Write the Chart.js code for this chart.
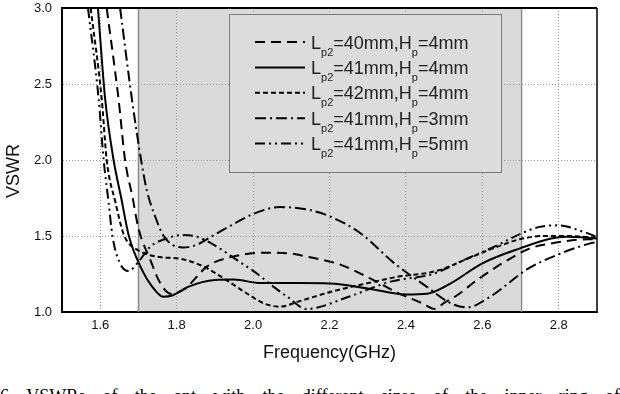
<!DOCTYPE html>
<html>
<head>
<meta charset="utf-8">
<script src="https://cdn.jsdelivr.net/npm/chart.js@4.4.0/dist/chart.umd.min.js"></script>
<style>
html, body { margin: 0; padding: 0; background: #fff; }
#wrap { position: relative; width: 620px; height: 394px; overflow: hidden; }
#c { position: absolute; left: 0; top: 0; }
#caption { position: absolute; left: 0; top: 387px; width: 620px; display: flex; justify-content: space-between;
  font: 18px "Liberation Serif", serif; color: #000; line-height: 1; white-space: nowrap; }
</style>
</head>
<body>
<div id="wrap">
  <canvas id="c" width="620" height="372"></canvas>
  <div id="caption"><span>6</span><span>VSWRs</span><span>of</span><span>the</span><span>ant</span><span>with</span><span>the</span><span>different</span><span>sizes</span><span>of</span><span>the</span><span>inner</span><span>ring</span><span>of</span></div>
</div>
<script>
// axis ticks and highlighted band (GHz)
const xTicks = [1.6, 1.8, 2.0, 2.2, 2.4, 2.6, 2.8];
const yTicks = [1.0, 1.5, 2.0, 2.5, 3.0];
const band = [1.7, 2.7];

// Lp2=40mm, Hp=4mm
const lp40Freq = [1.617, 1.648, 1.665, 1.685, 1.70, 1.73, 1.755, 1.785, 1.82, 1.88, 1.94, 2.03, 2.10, 2.13, 2.23, 2.315, 2.375, 2.445, 2.475, 2.50, 2.534, 2.586, 2.665, 2.726, 2.778, 2.84, 2.9];
const lp40Vswr = [3.0, 2.4, 2.0, 1.75, 1.55, 1.35, 1.2, 1.12, 1.15, 1.30, 1.36, 1.39, 1.385, 1.37, 1.31, 1.21, 1.13, 1.055, 1.02, 1.06, 1.11, 1.21, 1.34, 1.42, 1.45, 1.473, 1.48];

// Lp2=41mm, Hp=4mm
const lp41Freq = [1.594, 1.613, 1.635, 1.655, 1.675, 1.705, 1.735, 1.765, 1.79, 1.83, 1.90, 1.95, 2.02, 2.12, 2.20, 2.30, 2.40, 2.455, 2.516, 2.60, 2.70, 2.78, 2.82, 2.9];
const lp41Vswr = [3.0, 2.4, 2.0, 1.75, 1.5, 1.30, 1.17, 1.10, 1.11, 1.165, 1.21, 1.213, 1.19, 1.19, 1.187, 1.155, 1.115, 1.12, 1.187, 1.32, 1.42, 1.484, 1.495, 1.484];

// Lp2=42mm, Hp=4mm
const lp42Freq = [1.575, 1.604, 1.617, 1.64, 1.66, 1.672, 1.69, 1.722, 1.76, 1.81, 1.87, 1.93, 1.985, 2.03, 2.07, 2.12, 2.2, 2.3, 2.375, 2.48, 2.57, 2.64, 2.70, 2.76, 2.82, 2.9];
const lp42Vswr = [3.0, 2.4, 2.0, 1.72, 1.52, 1.46, 1.42, 1.38, 1.36, 1.35, 1.30, 1.21, 1.12, 1.055, 1.035, 1.07, 1.13, 1.19, 1.23, 1.27, 1.36, 1.43, 1.48, 1.50, 1.50, 1.49];

// Lp2=41mm, Hp=3mm
const hp3Freq = [1.652, 1.683, 1.707, 1.722, 1.745, 1.766, 1.79, 1.817, 1.85, 1.90, 1.95, 2.0, 2.07, 2.14, 2.2, 2.28, 2.37, 2.455, 2.515, 2.56, 2.62, 2.72, 2.8, 2.88, 2.9];
const hp3Vswr = [3.0, 2.4, 2.0, 1.80, 1.62, 1.50, 1.44, 1.425, 1.44, 1.51, 1.58, 1.645, 1.69, 1.675, 1.63, 1.52, 1.32, 1.165, 1.06, 1.03, 1.10, 1.285, 1.38, 1.45, 1.46];

// Lp2=41mm, Hp=5mm
const hp5Freq = [1.568, 1.596, 1.609, 1.622, 1.632, 1.65, 1.674, 1.70, 1.731, 1.775, 1.81, 1.853, 1.905, 1.958, 2.01, 2.054, 2.09, 2.14, 2.25, 2.36, 2.47, 2.55, 2.64, 2.70, 2.75, 2.80, 2.865, 2.9];
const hp5Vswr = [3.0, 2.4, 2.0, 1.72, 1.5, 1.33, 1.27, 1.33, 1.43, 1.484, 1.506, 1.495, 1.43, 1.341, 1.253, 1.165, 1.10, 1.02, 1.10, 1.20, 1.25, 1.34, 1.44, 1.515, 1.56, 1.57, 1.527, 1.495];

// legend labels: [Lp2, Hp]
const lpLabels = ['40', '41', '42', '41', '41'];
const hpLabels = ['4', '4', '4', '3', '5'];

const freqs = [lp40Freq, lp41Freq, lp42Freq, hp3Freq, hp5Freq];
const vswrs = [lp40Vswr, lp41Vswr, lp42Vswr, hp3Vswr, hp5Vswr];
const dashes = [[10, 6], [], [5, 3], [11, 4, 2, 4], [10, 4, 2, 4, 2, 4]];

const FONT = 'Liberation Sans';

const datasets = freqs.map((fx, i) => ({
  label: 'Lp2=' + lpLabels[i] + 'mm,Hp=' + hpLabels[i] + 'mm',
  data: fx.map((f, j) => ({ x: f, y: vswrs[i][j] })),
  showLine: true,
  borderColor: '#000',
  borderWidth: 2,
  borderDash: dashes[i],
  pointRadius: 0,
  fill: false,
  cubicInterpolationMode: 'monotone'
}));

const decor = {
  id: 'decor',
  beforeDraw(chart) {
    const { ctx, chartArea: a, scales: { x } } = chart;
    ctx.save();
    ctx.fillStyle = '#fff';
    ctx.fillRect(0, 0, chart.width, chart.height);
    const x0 = x.getPixelForValue(band[0]), x1 = x.getPixelForValue(band[1]);
    ctx.fillStyle = '#dadada';
    ctx.fillRect(x0, a.top, x1 - x0, a.bottom - a.top);
    ctx.restore();
  },
  beforeDatasetsDraw(chart) {
    const { ctx, chartArea: a, scales: { x } } = chart;
    ctx.save();
    ctx.strokeStyle = '#8a8a8a';
    ctx.lineWidth = 1.5;
    band.forEach(b => {
      const px = Math.round(x.getPixelForValue(b)) + 0.5;
      ctx.beginPath();
      ctx.moveTo(px, a.top);
      ctx.lineTo(px, a.bottom);
      ctx.stroke();
    });
    ctx.restore();
  },
  afterDatasetsDraw(chart) {
    const { ctx, chartArea: a } = chart;
    ctx.save();
    // top and right frame
    ctx.strokeStyle = '#000';
    ctx.lineWidth = 2;
    ctx.beginPath();
    ctx.moveTo(a.left, a.top);
    ctx.lineTo(a.right, a.top);
    ctx.stroke();
    ctx.lineWidth = 1.5;
    ctx.beginPath();
    ctx.moveTo(a.right, a.top);
    ctx.lineTo(a.right, a.bottom);
    ctx.stroke();

    // legend box
    ctx.fillStyle = '#dcdcdc';
    ctx.fillRect(229, 14, 273, 159);
    ctx.strokeStyle = '#7a7a7a';
    ctx.lineWidth = 1;
    ctx.strokeRect(229.5, 14.5, 272, 158);

    ctx.textAlign = 'left';
    ctx.textBaseline = 'alphabetic';
    datasets.forEach((ds, i) => {
      const y = 42 + i * 25.4;
      ctx.strokeStyle = '#000';
      ctx.lineWidth = 2;
      ctx.setLineDash(ds.borderDash);
      ctx.beginPath();
      ctx.moveTo(255, y);
      ctx.lineTo(305, y);
      ctx.stroke();
      ctx.setLineDash([]);

      ctx.fillStyle = '#222';
      let tx = 311;
      const big = '18px "' + FONT + '"';
      const small = '11px "' + FONT + '"';
      const parts = [
        ['L', big, 6.5], ['p2', small, 13.5],
        ['=' + lpLabels[i] + 'mm,H', big, 6.5], ['p', small, 13.5],
        ['=' + hpLabels[i] + 'mm', big, 6.5]
      ];
      parts.forEach(([t, f, dy]) => {
        ctx.font = f;
        ctx.fillText(t, tx, y + dy);
        tx += ctx.measureText(t).width;
      });
    });

    // y axis title
    ctx.translate(14, 171);
    ctx.rotate(-Math.PI / 2);
    ctx.font = '18px "' + FONT + '"';
    ctx.fillStyle = '#111';
    ctx.textAlign = 'center';
    ctx.textBaseline = 'middle';
    ctx.fillText('VSWR', 0, 0);
    ctx.restore();
  }
};

new Chart(document.getElementById('c'), {
  type: 'scatter',
  data: { datasets },
  plugins: [decor],
  options: {
    responsive: false,
    animation: false,
    devicePixelRatio: 1,
    layout: { padding: { top: 8, right: 23, left: 0, bottom: 0 } },
    plugins: { legend: { display: false }, tooltip: { enabled: false } },
    scales: {
      x: {
        type: 'linear',
        min: 1.5,
        max: 2.9,
        afterBuildTicks: s => { s.ticks = xTicks.map(v => ({ value: v })); },
        afterFit: s => { s.height = 60; s.paddingLeft = 0; s.paddingRight = 0; },
        grid: { color: '#9a9a9a', lineWidth: 1, drawTicks: false },
        border: { color: '#000', width: 2, dash: [1, 2] },
        ticks: { padding: 6, color: '#111', maxRotation: 0, autoSkip: false,
          font: { family: FONT, size: 13 }, callback: v => Number(v).toFixed(1) },
        title: { display: true, text: 'Frequency(GHz)', color: '#111',
          font: { family: FONT, size: 18 }, padding: { top: 0, bottom: 8 } }
      },
      y: {
        min: 1.0,
        max: 3.0,
        afterBuildTicks: s => { s.ticks = yTicks.map(v => ({ value: v })); },
        afterFit: s => { s.width = 62; s.paddingTop = 0; s.paddingBottom = 0; },
        grid: {
          color: c => (c.tick && (c.tick.value === 1 || c.tick.value === 3)) ? 'rgba(0,0,0,0)' : '#9a9a9a',
          lineWidth: 1, drawTicks: false
        },
        border: { color: '#000', width: 2, dash: [1, 2] },
        ticks: { padding: 10, color: '#111', font: { family: FONT, size: 13 },
          callback: v => Number(v).toFixed(1) }
      }
    }
  }
});
</script>
</body>
</html>
